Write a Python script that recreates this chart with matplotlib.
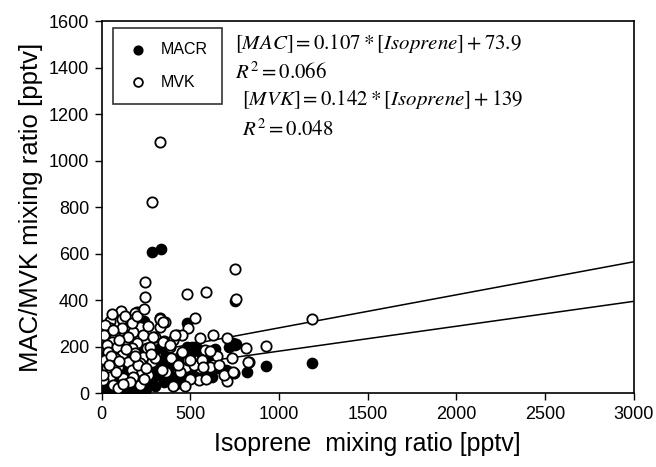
import numpy as np
import matplotlib.pyplot as plt

plt.rcParams['font.family'] = ['Liberation Sans', 'DejaVu Sans']
plt.rcParams['mathtext.fontset'] = 'stix'

# MVK (open circles): isoprene [pptv], MVK [pptv]
mvk_x = [327, 282, 242, 242, 480, 586, 750, 755, 1184, 925, 812, 829, 704, 733, 704, 744,
         626, 648, 552, 547, 524, 485, 423, 400, 400, 474, 485, 552, 609, 327, 355, 327,
         383, 349, 299, 690, 580, 520, 610, 451, 440, 500, 390, 360, 430, 660, 590, 470,
         564, 569, 496, 451, 738, 823,
         107, 197, 186, 45, 113, 163, 327, 344, 214, 45, 113, 175, 73, 231, 288, 56,
         130, 197, 28, 85, 169, 254, 344, 383, 411, 34, 113, 186, 231, 17, 73, 147,
         214, 282, 28, 90, 169, 225, 338, 45, 118, 175, 259, 62, 147, 214, 6, 90,
         20, 60, 130, 170, 200, 260, 240, 150, 95, 15, 270, 300, 135, 55, 205, 240,
         80, 160, 10, 120, 190, 250, 280, 40, 100, 65]
mvk_y = [1080, 820, 477, 413, 426, 434, 535, 404, 318, 202, 194, 133, 236, 150, 52, 86,
         249, 159, 236, 56, 322, 280, 249, 228, 30, 112, 142, 108, 112, 322, 305, 284,
         198, 224, 241, 80, 185, 120, 180, 176, 90, 60, 150, 90, 120, 120, 60, 30,
         142, 112, 142, 249, 90, 133,
         353, 348, 344, 310, 318, 314, 318, 305, 284, 280, 280, 262, 241, 249, 241, 219,
         228, 215, 206, 198, 194, 194, 219, 206, 249, 176, 163, 172, 155, 142, 150, 133,
         129, 133, 108, 112, 99, 90, 99, 69, 64, 69, 77, 34, 43, 34, 56, 21,
         295, 340, 330, 300, 330, 290, 360, 240, 230, 250, 200, 150, 190, 160, 120, 60,
         90, 50, 80, 40, 160, 110, 170, 120, 140, 270]

# MACR (filled circles)
macr_x = [282, 332, 750, 1184, 925, 817, 750, 704, 535, 552, 479, 411, 468, 496, 394, 338,
          327, 600, 540, 650, 480, 430, 560, 700, 620, 760, 360, 300, 250, 200, 150, 100,
          50, 20, 30, 60, 80, 120, 160, 180, 220, 240, 260, 280, 300, 320, 350, 380,
          420, 460, 500, 510, 570, 40, 70, 110, 140, 190, 230, 270, 200, 240, 10, 90,
          130, 170, 210, 250, 25, 60, 100, 150, 440, 640, 720, 524, 738, 710, 485,
          15, 45, 75, 105, 135, 165, 195, 225, 5, 55, 115, 185]
macr_y = [606, 619, 395, 129, 116, 90, 206, 90, 194, 176, 301, 133, 64, 163, 69, 133,
          194, 160, 80, 110, 200, 60, 140, 100, 70, 210, 170, 100, 60, 40, 30, 20,
          15, 40, 80, 60, 120, 90, 70, 150, 120, 180, 140, 50, 30, 80, 50, 110,
          40, 150, 100, 200, 90, 10, 30, 50, 110, 100, 30, 90, 340, 310, 20, 10,
          15, 20, 10, 20, 160, 200, 180, 210, 160, 190, 200, 198, 215, 95, 155,
          5, 25, 8, 35, 5, 45, 12, 55, 60, 45, 30, 25]

# regression fits
mac_slope, mac_icpt = 0.107, 73.9
mvk_slope, mvk_icpt = 0.142, 139
fit_x = np.array([0, 3000])

fig = plt.figure(figsize=(6.56, 4.67), dpi=100)
ax = fig.add_axes([0.155, 0.158, 0.811, 0.797])

ax.plot(fit_x, mac_slope * fit_x + mac_icpt, color='black', lw=1.1, zorder=1)
ax.plot(fit_x, mvk_slope * fit_x + mvk_icpt, color='black', lw=1.1, zorder=1)

ax.scatter(macr_x, macr_y, s=55, facecolor='black', edgecolor='black', lw=1.0,
           zorder=2, label='MACR')
ax.scatter(mvk_x, mvk_y, s=55, facecolor='white', edgecolor='black', lw=1.3,
           zorder=3, label='MVK')

ax.set_xlim(0, 3000)
ax.set_ylim(0, 1600)
ax.set_xticks(np.arange(0, 3001, 500))
ax.set_yticks(np.arange(0, 1601, 200))
ax.tick_params(direction='out', length=5, width=1, labelsize=13, pad=4)
for s in ax.spines.values():
    s.set_linewidth(1.2)

ax.set_xlabel('Isoprene  mixing ratio [pptv]', fontsize=18, labelpad=7)
ax.set_ylabel('MAC/MVK mixing ratio [pptv]', fontsize=18.5, labelpad=4)

leg = ax.legend(loc='upper left', bbox_to_anchor=(0.012, 0.995), frameon=True,
                fancybox=False, edgecolor='black', fontsize=11.5, handletextpad=0.8,
                borderpad=0.9, labelspacing=1.1, handlelength=1.3, borderaxespad=0.3,
                markerscale=0.85)
leg.get_frame().set_linewidth(1.2)

eq_kw = dict(transform=ax.transAxes, fontsize=15, va='center', ha='left')
ax.text(0.250, 0.940, r'$[MAC]=0.107*[Isoprene]+73.9$', **eq_kw)
ax.text(0.250, 0.862, r'$R^2=0.066$', **eq_kw)
ax.text(0.263, 0.788, r'$[MVK]=0.142*[Isoprene]+139$', **eq_kw)
ax.text(0.263, 0.710, r'$R^2=0.048$', **eq_kw)

fig.savefig('out.png', dpi=100)
